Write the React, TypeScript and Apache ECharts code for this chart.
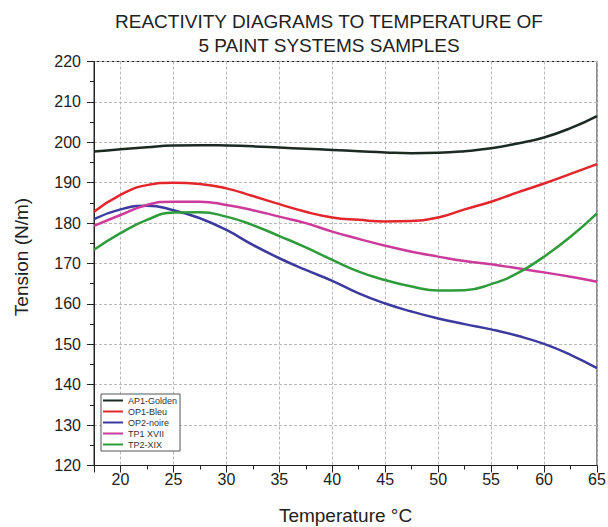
import React, { useEffect, useRef } from "react";
import * as echarts from "echarts";

const temperatures = [17.5, 20, 22.5, 25, 27.5, 30, 32.5, 35, 37.5, 40, 42.5, 45, 47.5, 50, 52.5, 55, 57.5, 60, 62.5, 65];

const ap1Golden = [197.7, 198.3, 198.8, 199.2, 199.3, 199.2, 199.0, 198.7, 198.4, 198.1, 197.8, 197.5, 197.3, 197.4, 197.8, 198.5, 199.7, 201.2, 203.5, 206.5];
const op1Bleu = [182.8, 187.0, 189.4, 190.0, 189.7, 188.6, 186.7, 184.7, 182.8, 181.4, 180.8, 180.4, 180.5, 181.4, 183.4, 185.3, 187.6, 189.8, 192.2, 194.6];
const op2Noire = [181.0, 183.4, 184.3, 183.2, 181.2, 178.3, 174.6, 171.3, 168.4, 165.7, 162.6, 160.1, 158.1, 156.4, 155.0, 153.7, 152.1, 150.1, 147.4, 144.1];
const tp1Xvii = [179.3, 182.0, 184.5, 185.3, 185.3, 184.5, 183.2, 181.6, 180.0, 177.9, 176.1, 174.4, 172.9, 171.7, 170.6, 169.8, 168.8, 167.8, 166.7, 165.5];
const tp2Xix = [173.4, 177.5, 180.8, 182.6, 182.7, 181.6, 179.5, 176.8, 174.0, 170.9, 168.0, 165.9, 164.3, 163.3, 163.4, 164.9, 167.6, 171.7, 176.6, 182.4];

const seriesNames = ["AP1-Golden", "OP1-Bleu", "OP2-noire", "TP1 XVII", "TP2-XIX"];
const seriesValues = [ap1Golden, op1Bleu, op2Noire, tp1Xvii, tp2Xix];
const seriesColors = ["#1c2a22", "#e2262b", "#3c3a9e", "#cc3a9a", "#2e9c3a"];

const titleText = "REACTIVITY DIAGRAMS TO TEMPERATURE OF\n5 PAINT SYSTEMS SAMPLES";
const xName = "Temperature °C";
const yName = "Tension (N/m)";

const FONT = "Liberation Sans, Arial, sans-serif";

export default function App() {
  const ref = useRef<HTMLDivElement>(null);
  useEffect(() => {
    if (!ref.current) return;
    const chart = echarts.init(ref.current, null, { renderer: "svg" });
    chart.setOption({
      animation: false,
      backgroundColor: "#ffffff",
      textStyle: { fontFamily: FONT },
      title: {
        text: titleText,
        left: 324,
        textAlign: "center",
        top: 4,
        textStyle: { fontSize: 19, fontWeight: "normal", color: "#222", lineHeight: 24, fontFamily: FONT },
      },
      grid: {
        left: 94, right: 11, top: 61.5, bottom: 61.5,
        containLabel: false,
        outerBoundsMode: "none",
        show: true, borderColor: "#222", borderWidth: 1, backgroundColor: "transparent",
      },
      legend: {
        orient: "vertical",
        left: 101,
        top: 394,
        padding: [2, 3, 2, 1],
        itemGap: 2,
        itemWidth: 20,
        itemHeight: 10,
        borderColor: "#555",
        borderWidth: 1,
        backgroundColor: "#fff",
        itemStyle: { opacity: 0 },
        textStyle: { fontSize: 9, color: "#333", fontFamily: FONT },
        data: seriesNames,
      },
      xAxis: {
        type: "value",
        min: 17.5,
        max: 65,
        splitNumber: 9,
        name: xName,
        nameLocation: "middle",
        nameGap: 40,
        nameTextStyle: { fontSize: 19, color: "#222", fontFamily: FONT },
        axisLine: { show: true, lineStyle: { color: "#222", width: 1 } },
        axisTick: { show: true, length: 7, lineStyle: { color: "#222" } },
        minorTick: { show: true, splitNumber: 2, length: 4, lineStyle: { color: "#222" } },
        axisLabel: { fontSize: 16, color: "#222", margin: 6, showMinLabel: false, fontFamily: FONT },
        splitLine: { show: true, lineStyle: { color: "#b8b8b8", type: [3, 2], width: 1 } },
      },
      yAxis: {
        type: "value",
        min: 120,
        max: 220,
        interval: 10,
        name: yName,
        nameLocation: "middle",
        nameGap: 63,
        nameRotate: 90,
        nameTextStyle: { fontSize: 19, color: "#222", fontFamily: FONT, padding: [0, 0, 0, 13] },
        axisLine: { show: true, lineStyle: { color: "#222", width: 1 } },
        axisTick: { show: true, length: 7, lineStyle: { color: "#222" } },
        minorTick: { show: true, splitNumber: 2, length: 4, lineStyle: { color: "#222" } },
        axisLabel: { fontSize: 16, color: "#222", margin: 13, fontFamily: FONT },
        splitLine: { show: true, lineStyle: { color: "#b8b8b8", type: [3, 2], width: 1 } },
      },
      series: seriesNames.map((name, i) => ({
        name,
        type: "line",
        smooth: true,
        symbol: "none",
        color: seriesColors[i],
        lineStyle: { width: 2.5, color: seriesColors[i] },
        data: temperatures.map((t, j) => [t, seriesValues[i][j]]),
      })),
    });
    return () => chart.dispose();
  }, []);
  return <div ref={ref} style={{ width: 608, height: 527, position: "absolute", left: 0, top: 0 }} />;
}
